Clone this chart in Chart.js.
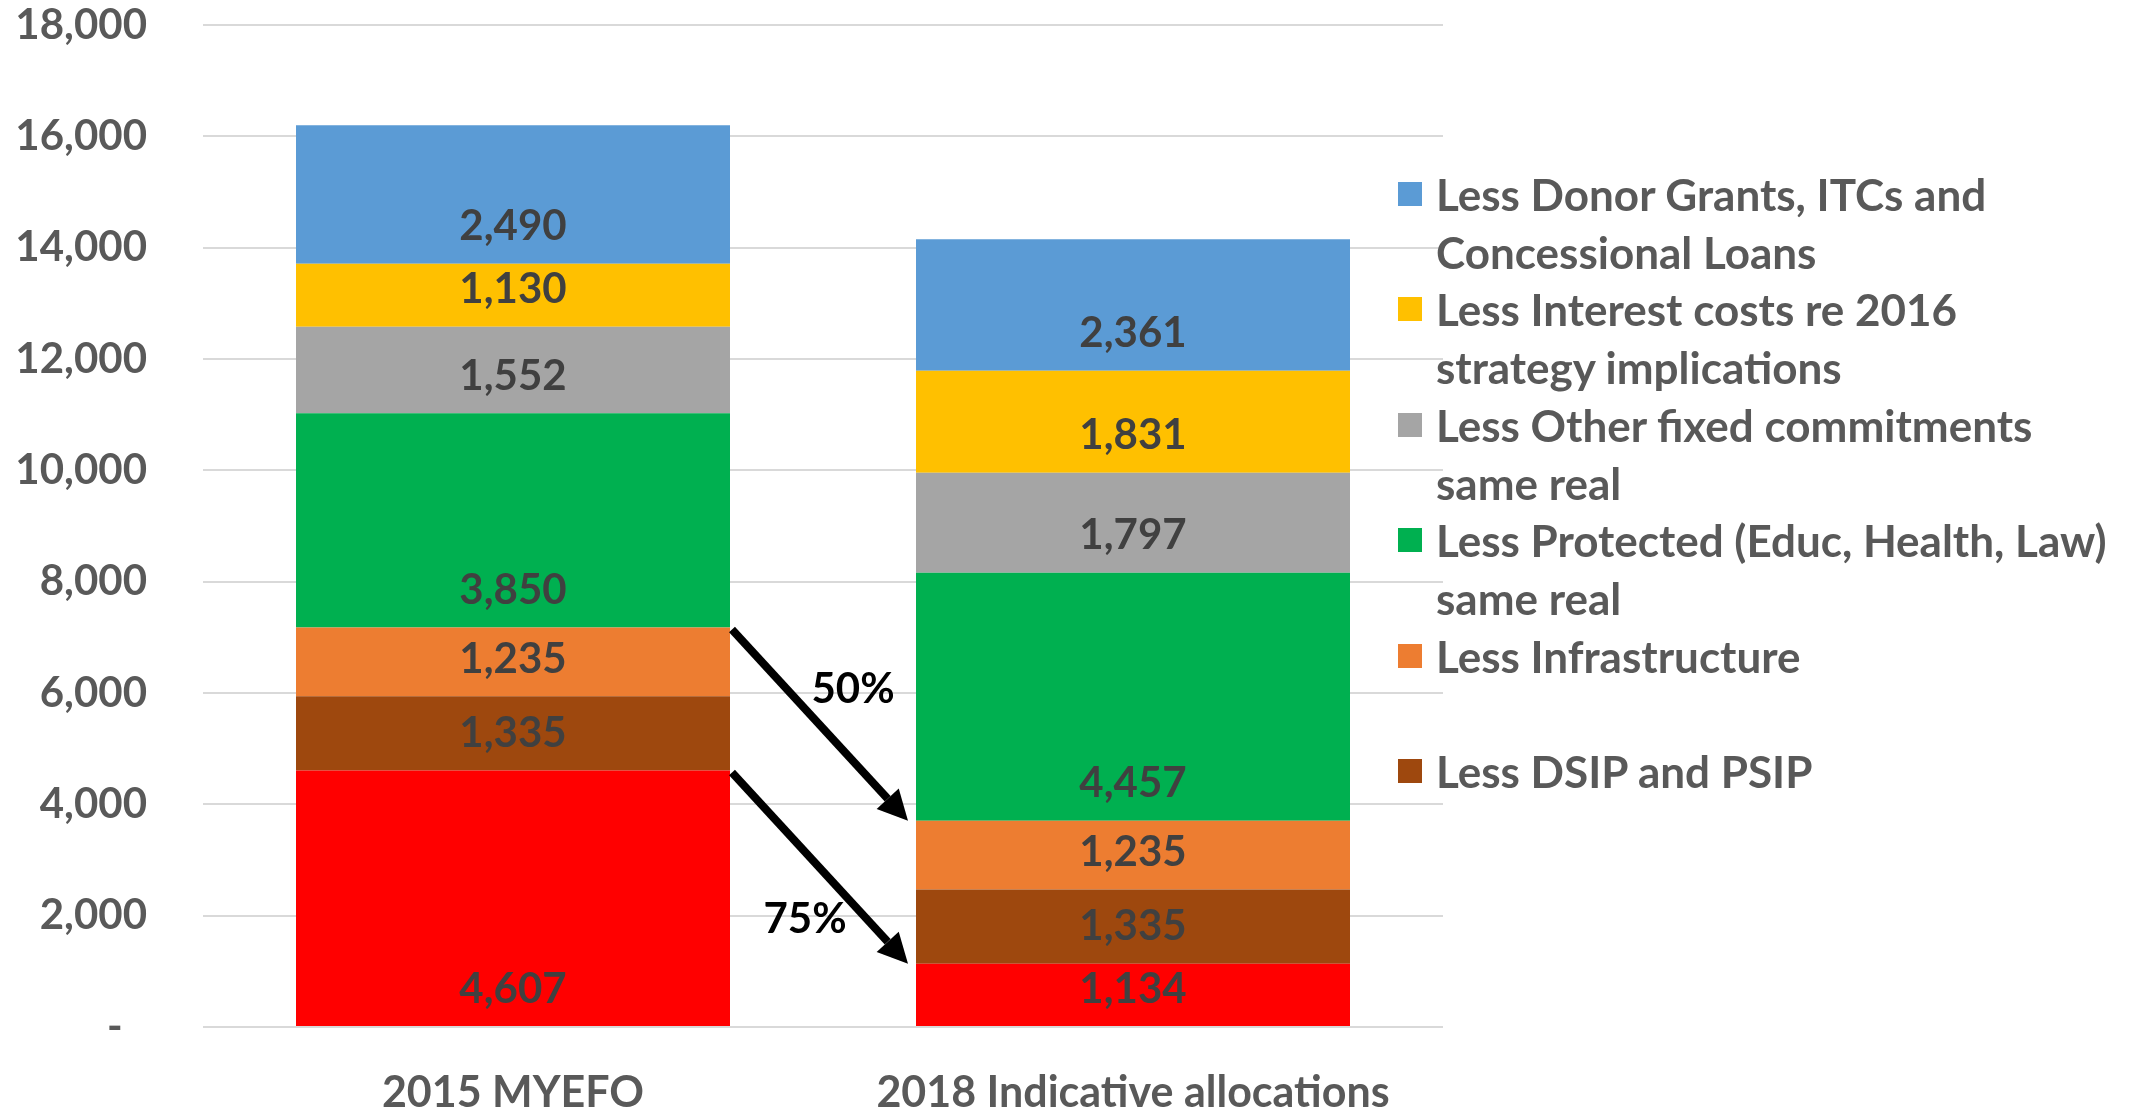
<!DOCTYPE html>
<html>
<head>
<meta charset="utf-8">
<script src="https://cdn.jsdelivr.net/npm/chart.js@4.4.1/dist/chart.umd.min.js"></script>
<style>
  body { margin: 0; background: #fff; }
  #wrap { position: relative; width: 2134px; height: 1109px; }
  #legend {
    position: absolute; left: 1398px; top: 165px;
    font-family: Lato, sans-serif; font-weight: 700; font-size: 44px; color: #595959;
  }
  .item { position: relative; height: 115.4px; padding-left: 38px; line-height: 58px; white-space: nowrap; }
  .box { position: absolute; left: 0; top: 17px; width: 24px; height: 24px; }
</style>
</head>
<body>
<div id="wrap">
  <canvas id="budget-chart" width="2134" height="1109"></canvas>
  <div id="legend"></div>
</div>
<script>
const categories = ['2015 MYEFO', '2018 Indicative allocations'];
const remaining = [4607, 1134];
const dsipPsip = [1335, 1335];
const infrastructure = [1235, 1235];
const protectedSpend = [3850, 4457];
const otherFixed = [1552, 1797];
const interestCosts = [1130, 1831];
const donorGrants = [2490, 2361];
const yTicks = [0, 2000, 4000, 6000, 8000, 10000, 12000, 14000, 16000, 18000];
const arrowLabels = ['50%', '75%'];

// legend entries, top to bottom (the red remainder has none)
const legendItems = [
    { lines: ['Less Donor Grants, ITCs and', 'Concessional Loans'], color: '#5B9BD5' },
    { lines: ['Less Interest costs re 2016', 'strategy implications'], color: '#FFC000' },
    { lines: ['Less Other fixed commitments', 'same real'], color: '#A5A5A5' },
    { lines: ['Less Protected (Educ, Health, Law)', 'same real'], color: '#00B050' },
    { lines: ['Less Infrastructure'], color: '#ED7D31' },
    { lines: ['Less DSIP and PSIP'], color: '#9E480E' }
];

const legendEl = document.getElementById('legend');
legendItems.forEach(item => {
    const div = document.createElement('div');
    div.className = 'item';
    const box = document.createElement('span');
    box.className = 'box';
    box.style.background = item.color;
    div.appendChild(box);
    div.appendChild(document.createTextNode(item.lines[0]));
    if (item.lines[1]) {
        div.appendChild(document.createElement('br'));
        div.appendChild(document.createTextNode(item.lines[1]));
    }
    legendEl.appendChild(div);
});

Chart.defaults.font.family = 'Lato, sans-serif';
Chart.defaults.font.weight = 'bold';
Chart.defaults.font.size = 42;

const fmt = v => v.toLocaleString('en-US');

// value labels sit just above the base of each segment
const valueLabels = {
    id: 'valueLabels',
    afterDatasetsDraw(chart) {
        const ctx = chart.ctx;
        ctx.save();
        ctx.font = 'bold 42px Lato, sans-serif';
        ctx.fillStyle = '#404040';
        ctx.textAlign = 'center';
        ctx.textBaseline = 'middle';
        chart.data.datasets.forEach((ds, i) => {
            chart.getDatasetMeta(i).data.forEach((bar, j) => {
                ctx.fillText(fmt(ds.data[j]), bar.x, bar.base - 37);
            });
        });
        ctx.restore();
    }
};

function drawArrow(ctx, x1, y1, x2, y2) {
    const ang = Math.atan2(y2 - y1, x2 - x1);
    const headLen = 30, headW = 15;
    const bx = x2 - headLen * Math.cos(ang), by = y2 - headLen * Math.sin(ang);
    ctx.beginPath();
    ctx.moveTo(x1, y1);
    ctx.lineTo(bx, by);
    ctx.stroke();
    ctx.beginPath();
    ctx.moveTo(x2, y2);
    ctx.lineTo(bx + headW * Math.sin(ang), by - headW * Math.cos(ang));
    ctx.lineTo(bx - headW * Math.sin(ang), by + headW * Math.cos(ang));
    ctx.closePath();
    ctx.fill();
}

// arrows from the 2015 bar to the 2018 bar, for infrastructure top and remainder top
const arrows = {
    id: 'arrows',
    afterDatasetsDraw(chart) {
        const ctx = chart.ctx;
        ctx.save();
        ctx.strokeStyle = '#000';
        ctx.fillStyle = '#000';
        ctx.lineWidth = 8;
        ctx.font = 'bold 42px Lato, sans-serif';
        ctx.textAlign = 'center';
        ctx.textBaseline = 'middle';
        const offsets = [[33, -36], [-15, 51]];
        [2, 0].forEach((dsIndex, k) => {
            const bars = chart.getDatasetMeta(dsIndex).data;
            const a = bars[0], b = bars[1];
            const x1 = a.x + a.width / 2 + 2, y1 = a.y + 2;
            const x2 = b.x - b.width / 2 - 8, y2 = b.y;
            drawArrow(ctx, x1, y1, x2, y2);
            ctx.fillText(arrowLabels[k], (x1 + x2) / 2 + offsets[k][0], (y1 + y2) / 2 + offsets[k][1]);
        });
        ctx.restore();
    }
};

const ctx = document.getElementById('budget-chart').getContext('2d');
const budgetChart = new Chart(ctx, {
    type: 'bar',
    data: {
        labels: categories,
        datasets: [
            { label: 'Remaining', data: remaining, backgroundColor: '#FF0000' },
            { label: 'Less DSIP and PSIP', data: dsipPsip, backgroundColor: '#9E480E' },
            { label: 'Less Infrastructure', data: infrastructure, backgroundColor: '#ED7D31' },
            { label: 'Less Protected (Educ, Health, Law) same real', data: protectedSpend, backgroundColor: '#00B050' },
            { label: 'Less Other fixed commitments same real', data: otherFixed, backgroundColor: '#A5A5A5' },
            { label: 'Less Interest costs re 2016 strategy implications', data: interestCosts, backgroundColor: '#FFC000' },
            { label: 'Less Donor Grants, ITCs and Concessional Loans', data: donorGrants, backgroundColor: '#5B9BD5' }
        ]
    },
    options: {
        responsive: false,
        animation: false,
        categoryPercentage: 1,
        barPercentage: 0.7,
        layout: { padding: { top: 25, right: 691, left: 0, bottom: 0 } },
        plugins: {
            legend: { display: false },
            tooltip: { enabled: false }
        },
        scales: {
            x: {
                stacked: true,
                grid: { display: false },
                border: { display: false },
                ticks: { color: '#595959', padding: 32, font: { size: 43 } },
                afterFit(scale) { scale.height = 82; }
            },
            y: {
                stacked: true,
                min: 0,
                max: 18000,
                grid: { color: '#D9D9D9', lineWidth: 2, drawTicks: false },
                border: { display: false },
                ticks: {
                    color: '#595959',
                    padding: 56,
                    callback: v => v === 0 ? '-\u2007' : fmt(v)
                },
                afterBuildTicks(scale) { scale.ticks = yTicks.map(v => ({ value: v })); },
                afterFit(scale) {
                    scale.width = 203;
                    scale.paddingTop = 0;
                    scale.paddingBottom = 0;
                }
            }
        }
    },
    plugins: [valueLabels, arrows]
});
</script>
</body>
</html>
